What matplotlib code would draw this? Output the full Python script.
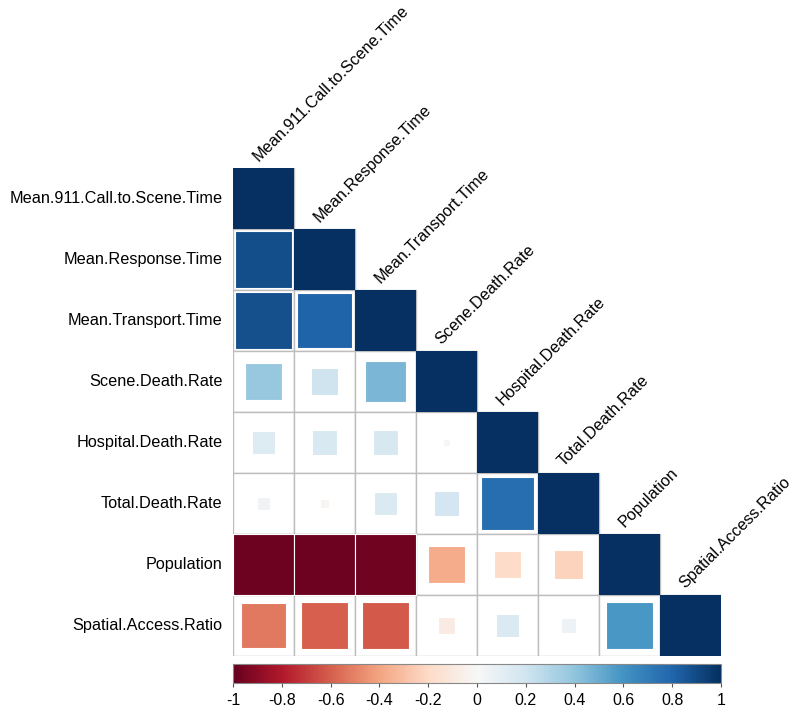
import numpy as np
import matplotlib.pyplot as plt
import matplotlib.patches as mpatches
from matplotlib import cm, colors

plt.rcParams['font.family'] = ['Liberation Sans', 'DejaVu Sans']

# Variablen
labels = ['Mean.911.Call.to.Scene.Time', 'Mean.Response.Time', 'Mean.Transport.Time',
          'Scene.Death.Rate', 'Hospital.Death.Rate', 'Total.Death.Rate',
          'Population', 'Spatial.Access.Ratio']

# untere Dreiecksmatrix, Zeile fuer Zeile (ohne Diagonale)
row_response = [0.89]
row_transport = [0.88, 0.81]
row_scene = [0.38, 0.21, 0.46]
row_hospital = [0.14, 0.16, 0.17, 0.01]
row_total = [0.04, -0.02, 0.15, 0.18, 0.76]
row_population = [-0.98, -0.98, -0.97, -0.37, -0.19, -0.23]
row_spatial = [-0.53, -0.60, -0.61, -0.08, 0.15, 0.06, 0.58]

rows = [[], row_response, row_transport, row_scene, row_hospital,
        row_total, row_population, row_spatial]
n = len(labels)
corr = np.eye(n)
for i, r in enumerate(rows):
    for j, v in enumerate(r):
        corr[i, j] = v
        corr[j, i] = v

W, H = 801, 717
fig = plt.figure(figsize=(W / 100, H / 100), dpi=100)
ax = fig.add_axes([233 / W, (H - 656) / H, 488 / W, 488 / H])
ax.set_xlim(0, n)
ax.set_ylim(n, 0)
ax.axis('off')

cmap = plt.get_cmap('RdBu')
norm = colors.Normalize(-1, 1)

# Gitter
for i in range(n):
    for j in range(i + 1):
        ax.add_patch(mpatches.Rectangle((j, i), 1, 1, facecolor='white',
                                        edgecolor='#bdbdbd', lw=1.0, zorder=1))

# Quadrate, Flaeche ~ |r|
for i in range(n):
    for j in range(i + 1):
        v = corr[i, j]
        s = np.sqrt(abs(v))
        ec = 'none' if i == j else 'white'
        ax.add_patch(mpatches.Rectangle((j + 0.5 - s / 2, i + 0.5 - s / 2), s, s,
                                        facecolor=cmap(norm(v)), edgecolor=ec,
                                        lw=0.8, zorder=2))

# Beschriftungen
for i, lab in enumerate(labels):
    ax.text(-0.17, i + 0.5, lab, ha='right', va='center', fontsize=11.7)
    ax.text(i + 0.45, i - 0.06, lab, ha='left', va='bottom', rotation=45,
            rotation_mode='anchor', fontsize=11.7)

# Farbskala
cax = fig.add_axes([233 / W, (H - 683) / H, 488 / W, 19 / H])
cb = fig.colorbar(cm.ScalarMappable(norm=norm, cmap=cmap), cax=cax,
                  orientation='horizontal')
ticks = np.round(np.arange(-1, 1.01, 0.2), 1)
cb.set_ticks(ticks)
cb.set_ticklabels([('%g' % t) if abs(t) > 1e-9 else '0' for t in ticks])
cb.ax.tick_params(labelsize=11.5, length=3, color='#555555', pad=4)
cb.outline.set_edgecolor('#888888')
cb.outline.set_linewidth(0.8)

plt.savefig('out.png', dpi=100)
